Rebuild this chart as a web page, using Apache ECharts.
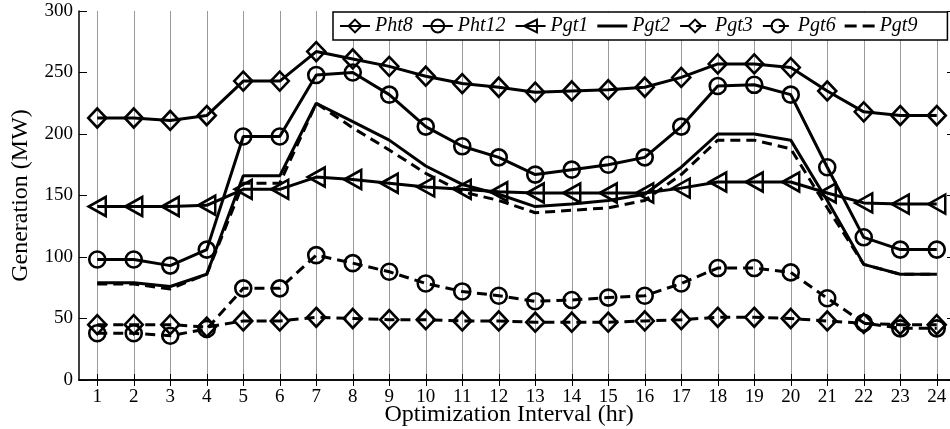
<!DOCTYPE html>
<html>
<head>
<meta charset="utf-8">
<script src="https://cdn.jsdelivr.net/npm/echarts@6/dist/echarts.min.js"></script>
<style>html,body{margin:0;padding:0;background:#fff}#c{width:950px;height:429px}</style>
</head>
<body>
<div id="c"></div>
<script>
const hours = ['1','2','3','4','5','6','7','8','9','10','11','12','13','14','15','16','17','18','19','20','21','22','23','24'];
const yTicks = [0, 50, 100, 150, 200, 250, 300];
const pht8  = [213, 213, 211, 215, 243, 243, 267, 261, 255, 247, 241, 238, 234, 235, 236, 238, 246, 257, 257, 254, 235, 218, 215, 215];
const pht12 = [98, 98, 93, 106, 198, 198, 248, 250, 232, 206, 190, 181, 167, 171, 175, 181, 206, 239, 240, 232, 173, 116, 106, 106];
const pgt1  = [141, 141, 141, 142, 155, 155, 165, 163, 160, 157, 155, 153, 152, 152, 152, 152, 156, 161, 161, 161, 152, 144, 143, 143];
const pgt2  = [79, 79, 76, 86, 166, 166, 225, 210, 195, 174, 159, 151, 141, 143, 146, 151, 173, 200, 200, 195, 146, 94, 86, 86];
const pgt3  = [45, 45, 45, 43, 48, 48, 51, 50, 49, 49, 48, 48, 47, 47, 47, 48, 49, 51, 51, 50, 48, 46, 45, 45];
const pgt6  = [38, 38, 36, 41.5, 74.5, 74.5, 101.5, 95, 88, 78.5, 72, 68.5, 64, 65, 67, 68.5, 78.5, 91, 91, 87.5, 66.5, 46.5, 42, 42];
const pgt9  = [78, 78, 74, 86, 160, 160, 225, 205, 187, 168, 153, 146, 136, 138, 140, 146, 167, 195, 195, 188, 140, 94, 86, 86];

const FONT = "'Liberation Serif', 'DejaVu Serif', serif";
const dash = [10, 6];

function mk(name, data, symbol, size, dashed, rotate) {
  return {
    name: name, type: 'line', data: data,
    symbol: symbol || 'none', symbolSize: size || 0, symbolRotate: rotate || 0,
    showSymbol: !!symbol,
    lineStyle: { color: '#000', width: 3, type: dashed ? dash : 'solid' },
    itemStyle: { color: 'rgba(255,255,255,0)', borderColor: '#000', borderWidth: 2.6 },
    emphasis: { disabled: true },
    animation: false
  };
}

const lineIcon = { color: '#000', borderWidth: 0 };

const chart = echarts.init(document.getElementById('c'), null, { renderer: 'canvas' });
chart.setOption({
  backgroundColor: '#fff',
  animation: false,
  grid: { left: 79, top: 11, right: -5, bottom: 49, containLabel: false, outerBoundsMode: 'none' },
  legend: {
    left: 333, top: 12, width: 900,
    orient: 'horizontal',
    backgroundColor: '#fff', borderColor: '#000', borderWidth: 1.5,
    padding: [4, 30, 4, 6],
    itemWidth: 30, itemHeight: 16, itemGap: 9,
    textStyle: { fontFamily: FONT, fontStyle: 'italic', fontSize: 20, color: '#000' },
    data: [
      'Pht8', 'Pht12', 'Pgt1',
      { name: 'Pgt2', icon: 'path://M0,0H30V3H0Z', itemStyle: lineIcon },
      'Pgt3', 'Pgt6',
      { name: 'Pgt9', icon: 'path://M0,0H12V3H0Z M18,0H30V3H18Z', itemStyle: lineIcon }
    ]
  },
  xAxis: [{
    type: 'category', data: hours, boundaryGap: true,
    name: 'Optimization Interval (hr)', nameLocation: 'middle', nameGap: 23, nameMoveOverlap: false,
    nameTextStyle: { fontFamily: FONT, fontSize: 24, color: '#000', padding: [0, 16, 0, 0] },
    axisLine: { lineStyle: { color: '#000', width: 1.5 } },
    axisTick: { show: true, inside: true, length: 6, alignWithLabel: true, interval: 0, lineStyle: { color: '#000' } },
    axisLabel: { interval: 0, margin: 8, fontFamily: FONT, fontSize: 19, color: '#000' },
    splitLine: { show: true, interval: 0, alignWithLabel: true, lineStyle: { color: '#9a9a9a', width: 1 } }
  }, {
    type: 'category', data: hours, boundaryGap: true, position: 'top',
    axisLine: { lineStyle: { color: '#000', width: 1.5 } },
    axisTick: { show: true, inside: true, length: 6, alignWithLabel: true, interval: 0, lineStyle: { color: '#000' } },
    axisLabel: { show: false }, splitLine: { show: false }
  }],
  yAxis: [{
    type: 'value', min: 0, max: 300, interval: 50,
    name: 'Generation (MW)', nameLocation: 'middle', nameGap: 46, nameMoveOverlap: false,
    nameTextStyle: { fontFamily: FONT, fontSize: 24, color: '#000' },
    axisLine: { show: true, lineStyle: { color: '#000', width: 1.5 } },
    axisTick: { show: true, inside: true, length: 8, lineStyle: { color: '#000' } },
    axisLabel: { margin: 6, fontFamily: FONT, fontSize: 19, color: '#000',
      formatter: v => (yTicks.indexOf(v) >= 0 ? String(v) : '') },
    splitLine: { show: false }
  }, {
    type: 'value', min: 0, max: 300, interval: 50, position: 'right',
    axisLine: { show: true, lineStyle: { color: '#000', width: 1.5 } },
    axisTick: { show: true, inside: true, length: 8, lineStyle: { color: '#000' } },
    axisLabel: { show: false }, splitLine: { show: false }
  }],
  series: [
    mk('Pht8', pht8, 'diamond', [18, 19], false),
    mk('Pht12', pht12, 'circle', 16, false),
    mk('Pgt1', pgt1, 'triangle', [19, 17], false, 90),
    mk('Pgt2', pgt2, null, 0, false),
    mk('Pgt3', pgt3, 'diamond', [18, 19], true),
    mk('Pgt6', pgt6, 'circle', 16, true),
    mk('Pgt9', pgt9, null, 0, true)
  ]
});
</script>
</body>
</html>
